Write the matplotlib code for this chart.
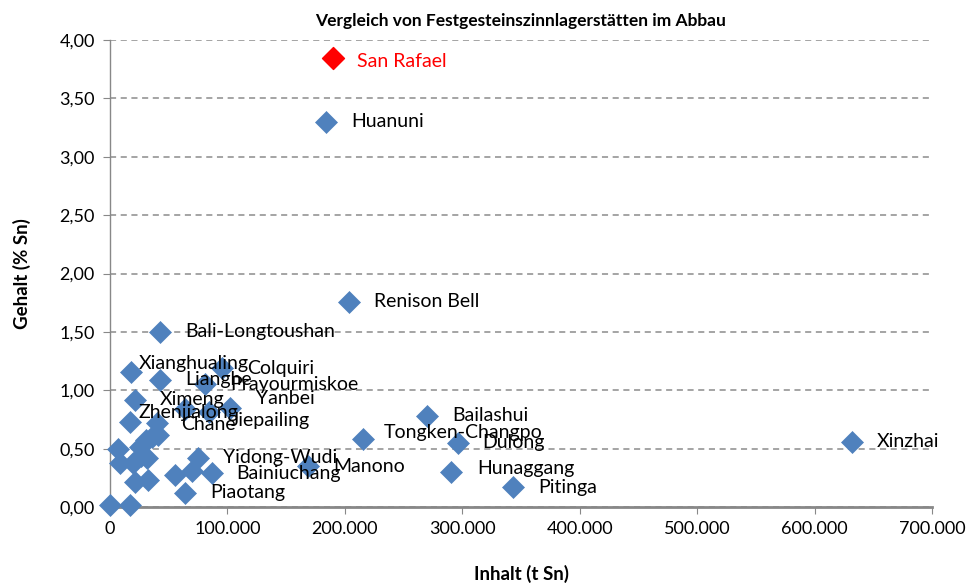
import matplotlib
matplotlib.use("Agg")
import matplotlib.pyplot as plt
from matplotlib.ticker import FuncFormatter, MultipleLocator

# ---- data ----
names = ["Huanuni", "Renison Bell", "Bali-Longtoushan", "Xianghualing", "Colquiri",
         "Lianghe", "Prayourmiskoe", "Ximeng", "Yanbei", "Zhenjialong", "Chane",
         "Jiepailing", "Bailashui", "Tongken-Changpo", "Dulong", "Xinzhai", "Manono",
         "Hunaggang", "Pitinga", "Yidong-Wudi", "Bainiuchang", "Piaotang",
         "", "", "", "", "", "", "", "", "", "", "", "", "", "", "", ""]
contents = [184000, 203500, 42600, 17900, 95400,
            42600, 81000, 21300, 102000, 17000, 40000,
            84000, 270000, 215000, 296000, 632000, 169000,
            290400, 343500, 75200, 86600, 63900,
            6800, 8500, 19600, 26400, 30700, 35800, 25500, 31500,
            21300, 32400, 0, 17000, 55400, 69600, 64000, 40900]
grades = [3.30, 1.76, 1.50, 1.16, 1.19,
          1.09, 1.05, 0.92, 0.85, 0.73, 0.72,
          0.81, 0.78, 0.58, 0.55, 0.56, 0.35,
          0.30, 0.17, 0.42, 0.29, 0.12,
          0.50, 0.38, 0.38, 0.44, 0.57, 0.60, 0.51, 0.42,
          0.21, 0.23, 0.02, 0.02, 0.27, 0.31, 0.84, 0.62]

highlight_name = "San Rafael"
highlight_content = 190000
highlight_grade = 3.85

title = "Vergleich von Festgesteinszinnlagerstätten im Abbau"
xlabel = "Inhalt (t Sn)"
ylabel = "Gehalt (% Sn)"

# ---- style ----
label_offsets = {  # pixels (dx, dy); default (25, 0)
    "Xianghualing": (8, 8), "Zhenjialong": (8, 9), "Yanbei": (26, 9),
    "Tongken-Changpo": (21, 7), "Jiepailing": (22, -8), "Chane": (24, -2),
    "Hunaggang": (26, 3),
}
FONT = ["Lato", "DejaVu Sans"]
plt.rcParams["font.family"] = FONT
blue = "#4F81BD"
LBL = 14

fig = plt.figure(figsize=(9.67, 5.86), dpi=100)
ax = fig.add_axes([0.1138, 0.1348, 0.85, 0.7969])

ax.scatter(contents, grades, marker="D", s=125, color=blue, edgecolors=blue,
           linewidths=0.5, zorder=3, clip_on=False)
ax.scatter([highlight_content], [highlight_grade], marker="D", s=125, color="#FF0000",
           zorder=4, clip_on=False)

for n, x, y in zip(names, contents, grades):
    if not n:
        continue
    dx, dy = label_offsets.get(n, (25, 0))
    ax.annotate(n, (x, y), xytext=(dx, dy), textcoords="offset pixels",
                ha="left", va="center", fontsize=LBL, color="black", zorder=5)
ax.annotate(highlight_name, (highlight_content, highlight_grade), xytext=(24, -4),
            textcoords="offset pixels", ha="left", va="center", fontsize=LBL,
            color="#FF0000", zorder=5)

ax.set_xlim(0, 700000)
ax.set_ylim(0, 4.0)
ax.xaxis.set_major_locator(MultipleLocator(100000))
ax.yaxis.set_major_locator(MultipleLocator(0.5))
ax.xaxis.set_major_formatter(FuncFormatter(lambda v, p: f"{int(round(v)):,}".replace(",", ".")))
ax.yaxis.set_major_formatter(FuncFormatter(lambda v, p: f"{v:.2f}".replace(".", ",")))

ax.grid(axis="y", color="#8C8C8C", linestyle=(0, (4, 3)), linewidth=1.1, zorder=0)
ax.set_axisbelow(True)
for s in ["top", "right"]:
    ax.spines[s].set_visible(False)
for s in ["left", "bottom"]:
    ax.spines[s].set_color("#888888")
ax.spines["left"].set_linewidth(1.0)
ax.spines["bottom"].set_linewidth(2.0)
ax.tick_params(axis="both", colors="#888888", labelcolor="black", labelsize=13,
               direction="out", length=5)
ax.tick_params(axis="x", pad=5)
ax.tick_params(axis="y", pad=6)

ax.set_title(title, fontsize=12.5, fontweight="bold", pad=10)
ax.set_xlabel(xlabel, fontsize=13.5, fontweight="bold", labelpad=20)
ax.set_ylabel(ylabel, fontsize=13.5, fontweight="bold", labelpad=20)

fig.savefig("out.png", dpi=100)
